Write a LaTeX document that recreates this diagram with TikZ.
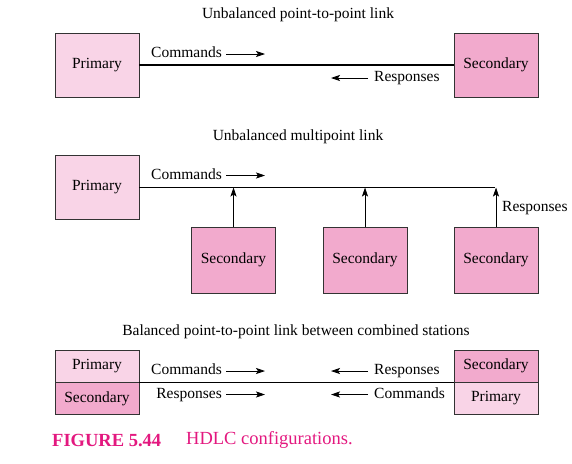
\documentclass[tikz,border=0pt]{standalone}
\usepackage{fontspec}
\setmainfont{Liberation Serif}
\usepackage{xcolor}
\usetikzlibrary{arrows.meta,positioning,calc}
\definecolor{primpink}{HTML}{F9D4E7}
\definecolor{secpink}{HTML}{F2AACD}
\definecolor{figmag}{HTML}{E3187F}
\tikzset{
  station/.style={draw=black!80,line width=0.7pt,minimum width=84pt,minimum height=64pt,inner sep=0pt,font=\fontsize{15.5}{18}\selectfont},
  half/.style={station,minimum height=32pt},
  lbl/.style={inner sep=0pt,text height=10.5pt,text depth=3.5pt,font=\fontsize{15.5}{18}\selectfont},
  link/.style={line width=1.2pt},
  tip/.style={-{Stealth[length=9pt,width=6pt,inset=2pt]},line width=0.8pt}
}
\begin{document}
\begin{tikzpicture}[x=1pt,y=-1pt]
\useasboundingbox (0,0) rectangle (572,463);
                % unbalanced point-to-point
                \node[lbl] (t1) at (298,15) {Unbalanced point-to-point link};
                \node[station,fill=primpink] (p1) at (97,65) {Primary};
                \node[station,fill=secpink] (s1) at (496,65) {Secondary};
                \draw[link] (p1.east) -- (s1.west);
                \node[lbl,anchor=east] (c1) at (222,54) {Commands};
                \draw[tip] ([xshift=4pt]c1.east) -- ++(39,0);
                \node[lbl,anchor=west] (r1) at (374,78) {Responses};
                \draw[tip] ([xshift=-6pt]r1.west) -- ++(-37,0);

                % unbalanced multipoint
                \node[lbl] (t2) at (298,137) {Unbalanced multipoint link};
                \node[station,fill=primpink] (p2) at (97,187.5) {Primary};
                \coordinate (bus) at (495,187.5);
                \draw[link] (p2.east) -- (bus);
                \node[lbl,anchor=east] (c2) at (222,175.5) {Commands};
                \draw[tip] ([xshift=4pt]c2.east) -- ++(39,0);
                \foreach \n/\x in {a/233.5,b/365,c/496} {
                  \node[station,fill=secpink,minimum height=66pt] (s2\n) at (\x,260) {Secondary};
                  \draw[tip] (s2\n.north) -- (s2\n.north |- bus);
                }
                \node[lbl,anchor=west] (r2) at (502,208) {Responses};

                % balanced, combined stations
                \node[lbl] (t3) at (296,332) {Balanced point-to-point link between combined stations};
                \node[half,fill=primpink] (lp) at (97,366) {Primary};
                \node[half,fill=secpink] (ls) at (97,398.5) {Secondary};
                \node[half,fill=secpink] (rs) at (496,366) {Secondary};
                \node[half,fill=primpink] (rp) at (496,398.5) {Primary};
                \draw[link] (lp.south east) -- (rs.south west);
                \node[lbl,anchor=east] (c3) at (222,371) {Commands};
                \draw[tip] ([xshift=4pt]c3.east) -- ++(39,0);
                \node[lbl,anchor=east] (r3) at (222,394.5) {Responses};
                \draw[tip] ([xshift=4pt]r3.east) -- ++(39,0);
                \node[lbl,anchor=west] (r4) at (374,371) {Responses};
                \draw[tip] ([xshift=-6pt]r4.west) -- ++(-37,0);
                \node[lbl,anchor=west] (c4) at (374,394.5) {Commands};
                \draw[tip] ([xshift=-6pt]c4.west) -- ++(-37,0);

                % caption
                \node[anchor=west,inner sep=0pt,text=figmag,font=\fontsize{18.5}{21}\selectfont\bfseries] (fig) at (52,440) {FIGURE 5.44};
                \node[anchor=west,inner sep=0pt,text=figmag,font=\fontsize{18.5}{21}\selectfont] (cap) at (186,440) {HDLC configurations.};
            \end{tikzpicture}
\end{document}
